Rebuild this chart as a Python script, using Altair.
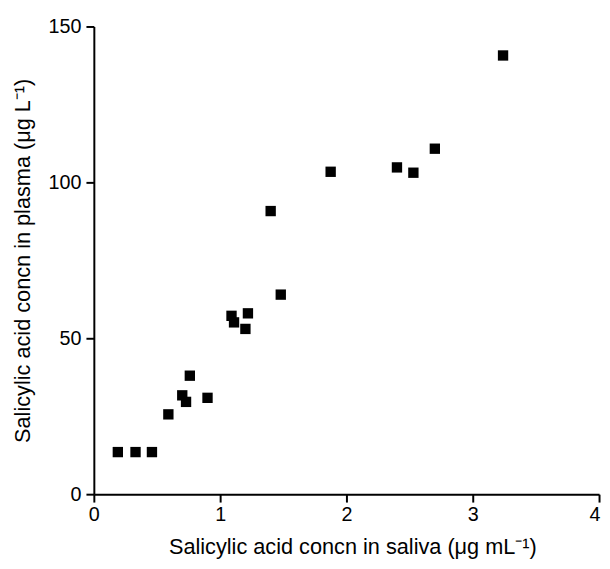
import altair as alt
import pandas as pd

saliva = [0.19, 0.33, 0.46, 0.59, 0.70, 0.73, 0.76, 0.90, 1.09, 1.11, 1.20, 1.22,
          1.40, 1.48, 1.875, 2.40, 2.53, 2.70, 3.24]
plasma = [13.5, 13.5, 13.5, 25.6, 31.7, 29.6, 38.0, 30.9, 57.2, 55.1, 53.0, 58.0,
          90.8, 64.0, 103.4, 104.8, 103.1, 110.8, 140.7]

df = pd.DataFrame({"saliva": saliva, "plasma": plasma})

FONT = "Liberation Sans"

chart = alt.Chart(df).mark_point(
    shape="square", filled=True, size=110, color="black", opacity=1
).encode(
    x=alt.X("saliva:Q",
            scale=alt.Scale(domain=[0, 4], nice=False, zero=True),
            axis=alt.Axis(values=[0, 1, 2, 3, 4], format="d",
                          title="Salicylic acid concn in saliva (μg mL⁻¹)",
                          labelPadding=3,
                          labelAlign={"expr": "datum.value == 4 ? 'right' : 'center'"},
                          labelOffset={"expr": "datum.value == 4 ? 1 : 0"},
                          titleX=262,
                          titleY=60, titleBaseline="alphabetic")),
    y=alt.Y("plasma:Q",
            scale=alt.Scale(domain=[0, 150], nice=False),
            axis=alt.Axis(values=[0, 50, 100, 150], format="d",
                          title="Salicylic acid concn in plasma (μg L⁻¹)",
                          labelPadding=5,
                          titleX=-72, titleBaseline="middle")),
).properties(
    width=512, height=474,
    padding={"left": 87, "top": 15, "right": 3, "bottom": 64},
    autosize=alt.AutoSizeParams(type="none"),
).configure_view(
    stroke=None
).configure_axis(
    grid=False, labelFlush=False,
    domainColor="black", domainWidth=2,
    tickColor="black", tickWidth=2, tickSize=8,
    labelFont=FONT, labelFontSize=20, labelColor="black",
    titleFont=FONT, titleFontSize=22, titleColor="black", titleFontWeight="normal",
)

chart.save("out.html", embed_options={"renderer": "svg", "actions": False})
